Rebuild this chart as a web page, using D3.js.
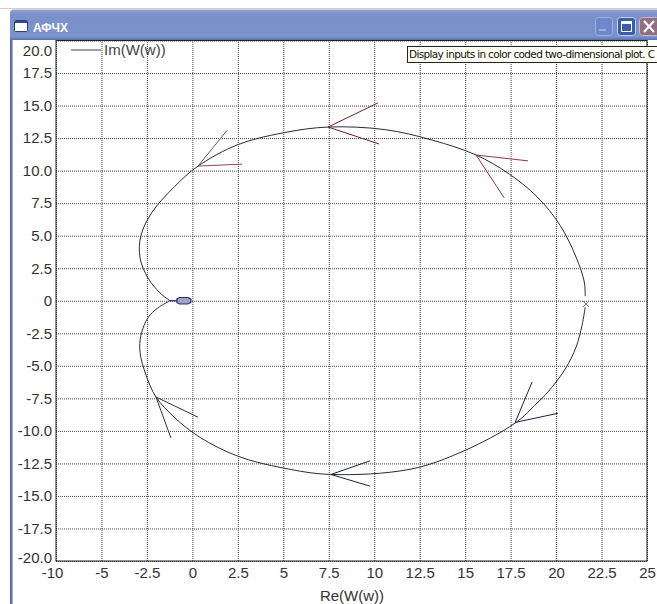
<!DOCTYPE html>
<html lang="en">
<head>
<meta charset="UTF-8">
<title>AFCH</title>
<script src="https://d3js.org/d3.v7.min.js"></script>
<style>
    body { margin: 0; background: #fff; }
    svg { display: block; }
    text { font-family: "Liberation Sans", Arial, sans-serif; }
</style>
</head>
<body>
<div id="chart"></div>
<script>
// tick labels (the first x label really reads -10 in the picture)
var xTicks = [-7.5, -5, -2.5, 0, 2.5, 5, 7.5, 10, 12.5, 15, 17.5, 20, 22.5, 25];
var xTickLabels = ["-10", "-5", "-2.5", "0", "2.5", "5", "7.5", "10", "12.5", "15", "17.5", "20", "22.5", "25"];
var yTicks = [20, 17.5, 15, 12.5, 10, 7.5, 5, 2.5, 0, -2.5, -5, -7.5, -10, -12.5, -15, -17.5, -20];
var yTickLabels = ["20.0", "17.5", "15.0", "12.5", "10.0", "7.5", "5.0", "2.5", "0", "-2.5", "-5.0", "-7.5", "-10.0", "-12.5", "-15.0", "-17.5", "-20.0"];

// upper branch of the hodograph
var upperRe = [-1.23, -1.78, -2.44, -2.88, -2.83, -2.22, -0.96, 0.31, 2.51, 4.98, 7.46, 10.6, 13.18, 15.6, 17.36, 18.95, 20.22, 21.1, 21.55, 21.6];
var upperIm = [0, 0.6, 1.75, 3.3, 5.0, 6.8, 8.8, 10.35, 12.0, 12.9, 13.35, 13.15, 12.35, 11.2, 9.8, 8.0, 5.8, 3.35, 1.45, 0.35];

// lower branch
var lowerRe = [21.6, 21.43, 21.1, 20.5, 19.56, 18.95, 17.75, 14.83, 11.97, 7.62, 4.98, 2.51, 0.42, -0.96, -2.0, -2.55, -2.88, -2.83, -2.44, -1.9, -1.23];
var lowerIm = [-0.5, -1.87, -3.56, -5.25, -7.0, -7.87, -9.4, -11.6, -12.95, -13.35, -12.85, -11.95, -10.5, -9.0, -7.4, -5.7, -3.95, -2.65, -1.3, -0.55, 0];

// tail and little loop near the origin
var tailRe = [-1.23, -0.85];
var tailIm = [0, 0];
var loopRe = [-0.85, -0.7, -0.25, -0.08, -0.08, -0.25, -0.7, -0.85];
var loopIm = [0.15, 0.25, 0.25, 0.12, -0.12, -0.25, -0.25, -0.15];

// arrow heads: tip, first barb, second barb
var arrowTipRe = [0.31, 7.46, 15.6, 17.75, 7.62, -2.0];
var arrowTipIm = [10.35, 13.35, 11.2, -9.35, -13.35, -7.4];
var arrowBarb1Re = [1.91, 10.2, 18.46, 18.68, 9.77, 0.31];
var arrowBarb1Im = [13.1, 15.2, 10.75, -6.25, -12.3, -8.95];
var arrowBarb2Re = [2.73, 10.26, 17.15, 20.1, 9.77, -1.18];
var arrowBarb2Im = [10.5, 12.05, 7.9, -8.65, -14.25, -10.55];
var arrowColors = ["#8a4a52", "#701c28", "#8a3a44", "#1c2048", "#1c2048", "#2c3050"];

var startRe = 21.65, startIm = -0.25;

var margin = { top: 40.5, right: 10, bottom: 43, left: 56 },
    width = 657 - margin.left - margin.right,
    height = 604 - margin.top - margin.bottom;

var svg = d3.select("#chart").append("svg")
    .attr("width", 657)
    .attr("height", 604);

var plot = svg.append("g")
    .attr("transform", "translate(" + margin.left + "," + margin.top + ")");

var x = d3.scaleLinear().domain([-7.5, 25]).range([0, width]);
var y = d3.scaleLinear().domain([-20, 20]).range([height, 0]);

// axes, the inner ticks double as the dotted grid
var xAxis = plot.append("g")
    .attr("transform", "translate(0," + height + ")")
    .call(d3.axisBottom(x)
        .tickValues(xTicks)
        .tickSizeInner(-height)
        .tickSizeOuter(0)
        .tickPadding(6)
        .tickFormat(function (d, i) { return xTickLabels[i]; }));

var yAxis = plot.append("g")
    .call(d3.axisLeft(y)
        .tickValues(yTicks)
        .tickSizeInner(-width)
        .tickSizeOuter(0)
        .tickPadding(4)
        .tickFormat(function (d, i) { return yTickLabels[i]; }));

plot.selectAll(".tick line")
    .attr("stroke", "#444")
    .attr("stroke-dasharray", "1,1");
plot.selectAll(".tick text")
    .style("font-size", "15px")
    .style("font-family", "'Liberation Sans', Arial, sans-serif")
    .attr("fill", "#333");
plot.selectAll(".domain").attr("stroke", "none");

// the 20.0 label sits lower than its grid line in the original
yAxis.select(".tick text").attr("dy", "1.0em");
yAxis.selectAll(".tick").filter(function (d) { return d === -20; })
    .select("text").attr("dy", "0.1em");
xAxis.selectAll(".tick").filter(function (d) { return d === -7.5; })
    .select("text").attr("dx", "-4");

// frame
plot.append("rect")
    .attr("width", width)
    .attr("height", height)
    .attr("fill", "none")
    .attr("stroke", "#222");

var line = d3.line()
    .x(function (d) { return x(d[0]); })
    .y(function (d) { return y(d[1]); })
    .curve(d3.curveCatmullRom);

plot.append("path")
    .attr("d", line(d3.zip(upperRe, upperIm)))
    .attr("fill", "none")
    .attr("stroke", "#2a2a3a");

plot.append("path")
    .attr("d", line(d3.zip(lowerRe, lowerIm)))
    .attr("fill", "none")
    .attr("stroke", "#2a2a3a");

plot.append("path")
    .attr("d", line(d3.zip(tailRe, tailIm)))
    .attr("fill", "none")
    .attr("stroke", "#28287a")
    .attr("stroke-width", 1.3);

plot.append("path")
    .attr("d", d3.line().x(function (d) { return x(d[0]); }).y(function (d) { return y(d[1]); })
        .curve(d3.curveLinearClosed)(d3.zip(loopRe, loopIm)))
    .attr("fill", "#a4a4bc")
    .attr("stroke", "#28287a")
    .attr("stroke-width", 1.2);

// arrow heads
arrowTipRe.forEach(function (re, i) {
    [[arrowBarb1Re[i], arrowBarb1Im[i]], [arrowBarb2Re[i], arrowBarb2Im[i]]].forEach(function (b) {
        plot.append("line")
            .attr("x1", x(re))
            .attr("y1", y(arrowTipIm[i]))
            .attr("x2", x(b[0]))
            .attr("y2", y(b[1]))
            .attr("stroke", arrowColors[i]);
    });
});

// start marker
plot.append("path")
    .attr("d", d3.symbol().type(d3.symbolX).size(26)())
    .attr("transform", "translate(" + x(startRe) + "," + y(startIm) + ")")
    .attr("fill", "none")
    .attr("stroke", "#6a6a90");

// legend
svg.append("line")
    .attr("x1", 71).attr("x2", 101)
    .attr("y1", 50).attr("y2", 50)
    .attr("stroke", "#444");
svg.append("text")
    .attr("x", 104).attr("y", 55)
    .attr("fill", "#444")
    .style("font-size", "15px")
    .text("Im(W(w))");

svg.append("text")
    .attr("x", 352).attr("y", 601)
    .attr("text-anchor", "middle")
    .attr("fill", "#333")
    .style("font-size", "15px")
    .text("Re(W(w))");

// tooltip left open over the plot
svg.append("rect")
    .attr("x", 407.5).attr("y", 46.5)
    .attr("width", 260).attr("height", 16)
    .attr("fill", "#fffff4")
    .attr("stroke", "#222");
svg.append("text")
    .attr("x", 409).attr("y", 58)
    .attr("fill", "#111")
    .style("font-size", "10.5px")
    .style("font-family", "'DejaVu Sans', sans-serif")
    .attr("textLength", 246)
    .text("Display inputs in color coded two-dimensional plot. C");

// window chrome
var defs = svg.append("defs");
var grad = defs.append("linearGradient").attr("id", "titleGrad")
    .attr("x1", 0).attr("x2", 0).attr("y1", 0).attr("y2", 1);
grad.append("stop").attr("offset", "0%").attr("stop-color", "#8ea4dc");
grad.append("stop").attr("offset", "15%").attr("stop-color", "#7b90c8");
grad.append("stop").attr("offset", "90%").attr("stop-color", "#7c92cc");
grad.append("stop").attr("offset", "100%").attr("stop-color", "#5a6ea8");

svg.append("rect").attr("x", 0).attr("y", 8).attr("width", 657).attr("height", 1).attr("fill", "#d8d0b8");
svg.append("path")
    .attr("d", "M10,40V13Q10,9.5 14,9.5H657V40Z")
    .attr("fill", "url(#titleGrad)");
svg.append("rect").attr("x", 10).attr("y", 40).attr("width", 2.5).attr("height", 564).attr("fill", "#5a6cae");

// title bar icon
svg.append("rect").attr("x", 14.5).attr("y", 20.5).attr("width", 13).attr("height", 11).attr("rx", 1)
    .attr("fill", "#fff").attr("stroke", "#2c3e80");
svg.append("rect").attr("x", 15).attr("y", 21).attr("width", 12).attr("height", 2).attr("fill", "#34468c");
svg.append("text")
    .attr("x", 33).attr("y", 32)
    .attr("fill", "#fff")
    .style("font-size", "12px")
    .style("font-weight", "bold")
    .text("АФЧХ");

// title bar buttons
svg.append("rect").attr("x", 595.5).attr("y", 17.5).attr("width", 17).attr("height", 18).attr("rx", 3)
    .attr("fill", "#6f88cc").attr("stroke", "#9bb0e0");
svg.append("rect").attr("x", 599).attr("y", 29).attr("width", 7).attr("height", 2).attr("fill", "#9bb0e0");
svg.append("rect").attr("x", 617.5).attr("y", 17.5).attr("width", 18).attr("height", 18).attr("rx", 3)
    .attr("fill", "#3c5cac").attr("stroke", "#c4d2f0");
svg.append("rect").attr("x", 621.5).attr("y", 21.5).attr("width", 10).attr("height", 10)
    .attr("fill", "none").attr("stroke", "#fff");
svg.append("rect").attr("x", 621).attr("y", 21).attr("width", 11).attr("height", 3).attr("fill", "#fff");
svg.append("rect").attr("x", 639.5).attr("y", 17.5).attr("width", 20).attr("height", 18).attr("rx", 3)
    .attr("fill", "#8f6f80").attr("stroke", "#c8b8c8");
svg.append("path").attr("d", "M644,21L654,32M654,21L644,32")
    .attr("stroke", "#fff").attr("stroke-width", 2.2);
</script>
</body>
</html>
